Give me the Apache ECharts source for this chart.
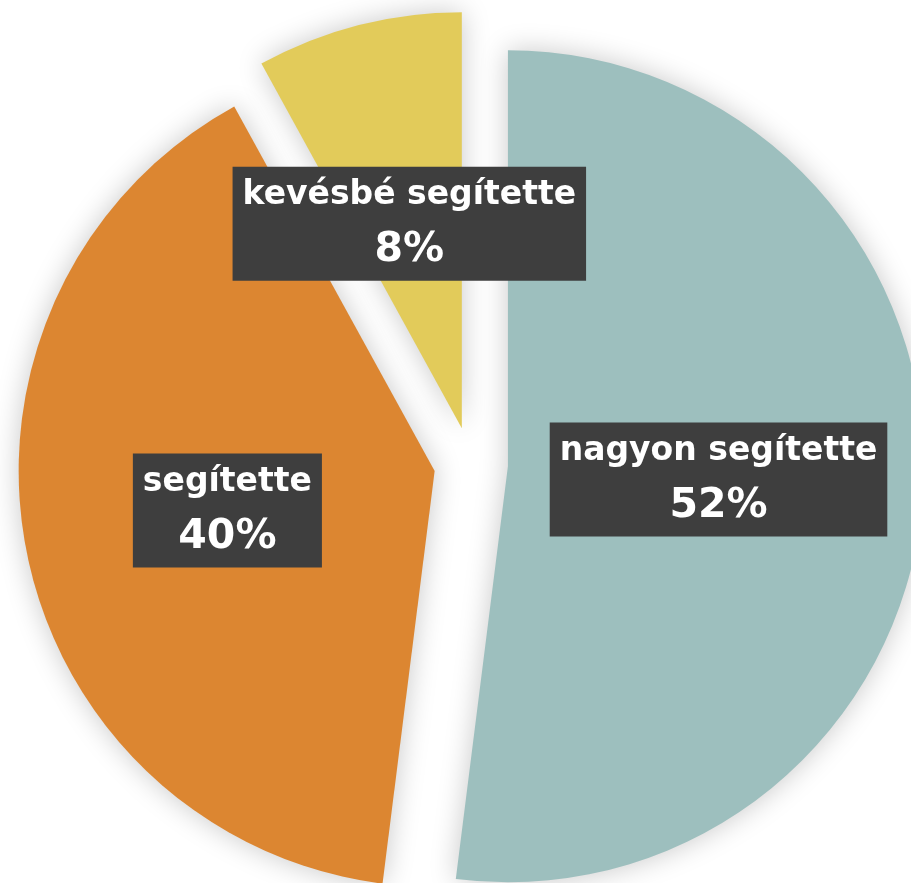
<!DOCTYPE html>
<html>
<head>
<meta charset="utf-8">
<script src="https://cdn.jsdelivr.net/npm/echarts@6/dist/echarts.min.js"></script>
<style>
  html, body { margin: 0; padding: 0; background: #ffffff; }
  #chart { width: 911px; height: 883px; }
</style>
</head>
<body>
<div id="chart"></div>
<script>
// answers and their shares (%)
let categories = ['nagyon segítette', 'segítette', 'kevésbé segítette'];
let values = [52, 40, 8];
let colors = ['#9dbfbe', '#dc8631', '#e2cb5a'];

let chart = echarts.init(document.getElementById('chart'));

let data = [];
for (var i in categories) {
    data.push({
        name: categories[i],
        value: values[i],
        selected: true,
        itemStyle: { color: colors[i] }
    });
}

let conf = {
    backgroundColor: '#ffffff',
    animation: false,
    series: [
        {
            type: 'pie',
            center: [471, 464],
            radius: 416,
            startAngle: 90,
            clockwise: true,
            selectedMode: 'multiple',
            selectedOffset: 37,
            emphasis: { disabled: true },
            itemStyle: {
                shadowBlur: 28,
                shadowColor: 'rgba(0, 0, 0, 0.22)'
            },
            label: {
                show: true,
                position: 'inside',
                backgroundColor: '#3e3e3e',
                padding: [4, 10, 0, 10],
                align: 'center',
                formatter: function (p) {
                    return '{a|' + p.name + '}\n{b|' + p.value + '%}';
                },
                rich: {
                    a: {
                        color: '#ffffff',
                        fontFamily: 'DejaVu Sans',
                        fontWeight: 'bold',
                        fontSize: 33,
                        lineHeight: 50,
                        align: 'center'
                    },
                    b: {
                        color: '#ffffff',
                        fontFamily: 'DejaVu Sans',
                        fontWeight: 'bold',
                        fontSize: 41,
                        lineHeight: 60,
                        align: 'center'
                    }
                }
            },
            labelLine: { show: false },
            data: data
        }
    ]
};

chart.setOption(conf);
</script>
</body>
</html>
